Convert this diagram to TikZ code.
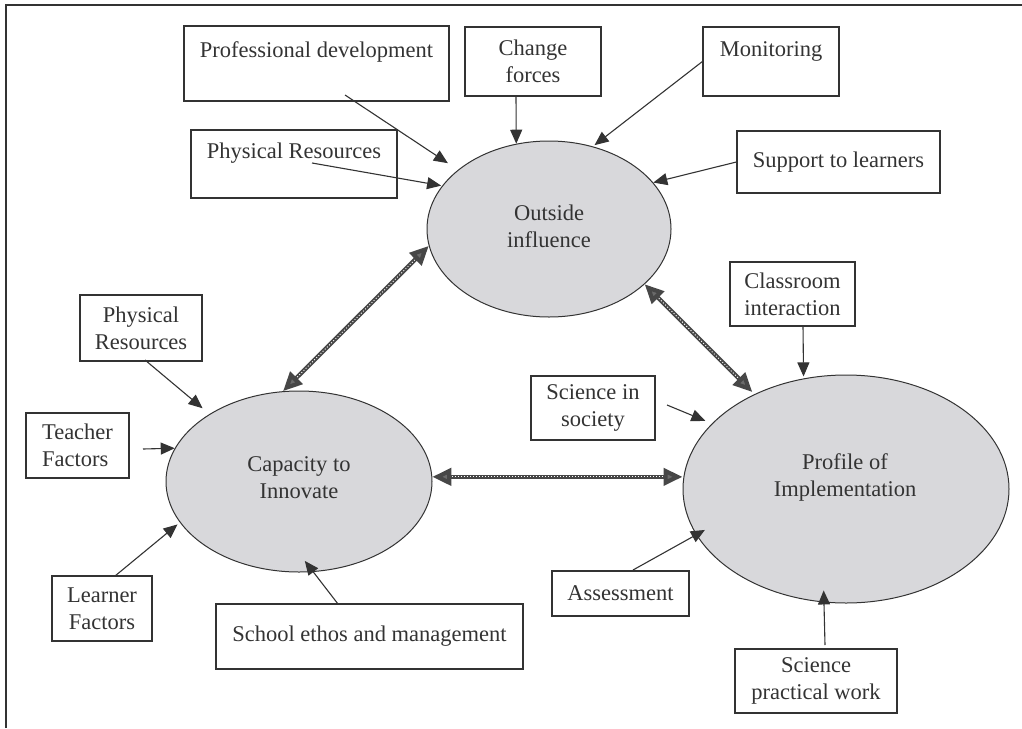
\documentclass[tikz,border=0pt]{standalone}
\usepackage{fontspec}
\setmainfont{Liberation Serif}
\usetikzlibrary{arrows.meta,shapes.geometric,calc}
\definecolor{ink}{HTML}{333333}
\definecolor{ellfill}{HTML}{D8D8DB}
\begin{document}
\begin{tikzpicture}[x=1pt,y=-1pt,
  every node/.style={font=\fontsize{22.5}{27}\selectfont, text=ink},
  box/.style={draw=ink, line width=1.2pt, rectangle, inner sep=0pt, align=center},
  ell/.style={draw=ink, line width=1pt, ellipse, fill=ellfill, inner sep=0pt},
  txt/.style={align=center, inner sep=0pt},
  arr/.style={draw=ink, line width=1.1pt, -{Triangle[length=14pt,width=12pt]}},
  dbl/.style={draw=black!72, line width=4.2pt,
    {Triangle[length=19pt,width=17pt,fill=black!58]}-{Triangle[length=19pt,width=17pt,fill=black!58]}},
  dbltex/.style={draw=white, line width=0.9pt, dash pattern=on 1pt off 2pt,
    shorten <=20pt, shorten >=20pt}]
\useasboundingbox (0,0) rectangle (1022,728);

% frame
\coordinate (fr1) at (6,728);
\coordinate (fr2) at (6,5);
\coordinate (fr3) at (1022,5);
\draw[draw=ink, line width=1.5pt] (fr1) -- (fr2) -- (fr3);

% ellipses
\node[ell, minimum width=244pt, minimum height=176pt] (e1) at (549,229) {};
\node[ell, minimum width=266pt, minimum height=181pt] (e2) at (299,481.5) {};
\node[ell, minimum width=326pt, minimum height=228pt] (e3) at (846,489) {};
\node[txt] (e1t) at (549,226.5) {Outside\\influence};
\node[txt] (e2t) at (299,478) {Capacity to\\Innovate};
\node[txt] (e3t) at (845,477) {Profile of\\Implementation};

% boxes
\node[box, minimum width=265pt, text height=31.5pt, text depth=43.5pt] (pd) at (316.5,63.5) {Professional development};
\node[box, minimum width=206pt, text height=28.5pt, text depth=39.5pt] (prt) at (294,164) {Physical Resources};
\node[box, minimum width=136pt, minimum height=69pt] (cf) at (533,61.5) {Change\\forces};
\node[box, minimum width=136pt, text height=29.5pt, text depth=39.5pt] (mon) at (771,61.5) {Monitoring};
\node[box, minimum width=203pt, minimum height=62pt] (sup) at (838.5,162) {Support to learners};
\node[box, minimum width=122pt, minimum height=66pt] (prl) at (141,328) {Physical\\Resources};
\node[box, minimum width=103pt, minimum height=65pt, align=left] (tf) at (77.5,445.5) {Teacher\\Factors};
\node[box, minimum width=100pt, minimum height=65pt] (lf) at (102,608.5) {Learner\\Factors};
\node[box, minimum width=307pt, minimum height=65pt] (se) at (369.5,636.5) {School ethos and management};
\node[box, minimum width=125pt, minimum height=64pt] (ci) at (792.5,294) {Classroom\\interaction};
\node[box, minimum width=124pt, minimum height=64pt] (sis) at (593,408) {Science in\\society};
\node[box, minimum width=137pt, minimum height=45pt] (as) at (620.5,593.5) {Assessment};
\node[box, minimum width=162pt, minimum height=64pt] (sp) at (816,681) {Science\\practical work};

% arrow start points inside/at boxes
\coordinate (pdS) at (345,95);
\coordinate (prtS) at (312,163);
\coordinate (cfS) at (516,96);
\coordinate (prlS) at (145,360);
\coordinate (tfS) at (143,449);
\coordinate (lfS) at (115,576);
\coordinate (seS) at (338,604);
\coordinate (ciS) at (803,326);
\coordinate (sisS) at (667,405);
\coordinate (asS) at (633,570);
\coordinate (spS) at (825,645);

% single arrows
\draw[arr, shorten >=12pt] (pdS) -- (e1.147);
\draw[arr, shorten >=1pt] (prtS) -- (e1.158);
\draw[arr] (cfS) -- (e1.111);
\draw[arr, shorten >=2pt] (mon.west) -- (e1.62);
\draw[arr] (sup.west) -- (e1.24);
\draw[arr, shorten >=9pt] (prlS) -- (e2.143);
\draw[arr] (tfS) -- (e2.165);
\draw[arr, shorten >=3pt] (lfS) -- (e2.199);
\draw[arr, shorten >=-14pt] (seS) -- (e2.279);
\draw[arr, shorten >=2pt] (ciS) -- (e3.111);
\draw[arr, shorten >=7pt] (sisS) -- (e3.154);
\draw[arr, shorten >=-10pt] (asS) -- (e3.197);
\draw[arr, shorten >=-12pt] (spS) -- (e3.259);

% double hatched arrows
\draw[dbl] (e2.100) -- (e1.188);
\draw[dbltex] (e2.100) -- (e1.188);
\draw[dbl] (e2.2) -- (e2.2 -| e3.west);
\draw[dbltex] (e2.2) -- (e2.2 -| e3.west);
\draw[dbl, shorten >=3pt] (e1.330) -- (e3.134);
\draw[dbltex, shorten >=23pt] (e1.330) -- (e3.134);
\end{tikzpicture}
\end{document}
